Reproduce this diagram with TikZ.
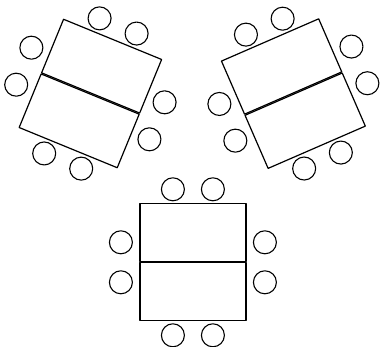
\documentclass[tikz,border=0pt]{standalone}
\begin{document}
\begin{tikzpicture}[x=1bp,y=1bp,line join=bevel,
  tablehalf/.style={draw=black,line width=1.2bp},
  chair/.style={draw=black,line width=1.1bp}]
\useasboundingbox (0,0) rectangle (380,347);
%%
\foreach \cx/\cy/\rot in {90.4/253.5/-22.3, 293.4/253.4/23.5, 192.9/84.7/0} {
  \begin{scope}[shift={(\cx,\cy)},rotate=\rot]
    \draw[tablehalf] (-53,0.6) rectangle (53,58.5);
    \draw[tablehalf] (-53,-58.5) rectangle (53,-0.6);
    \foreach \px/\py in {-20/73,20/73,-20/-73,20/-73,-72/20,-72/-20,72/20,72/-20}
      \draw[chair] (\px,\py) circle (11.5bp);
  \end{scope}
}
%
\end{tikzpicture}
\end{document}
